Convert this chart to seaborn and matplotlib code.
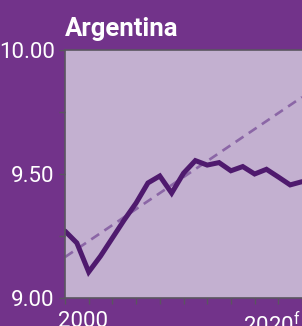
import matplotlib
matplotlib.use("Agg")
import matplotlib.pyplot as plt
import matplotlib.transforms as mtransforms
import seaborn as sns
import pandas as pd

# 数据
periods = [0, 1, 2, 3, 4, 5, 6, 7, 8, 9, 10, 11, 12, 13, 14, 15, 16, 17, 18, 19, 20]
values = [9.270, 9.222, 9.105, 9.169, 9.242, 9.315, 9.383, 9.464, 9.492, 9.423,
          9.503, 9.554, 9.536, 9.546, 9.513, 9.530, 9.500, 9.519, 9.488, 9.456, 9.469]
trend_periods = [0, 20]
trend_values = [9.165, 9.810]
xtick_pos = [2, 18]
xtick_labels = ["2000", "2020$^\\mathrm{f}$"]
ytick_pos = [9.0, 9.5, 10.0]
ytick_labels = ["9.00", "9.50", "10.00"]

sns.set_theme(style="ticks")
plt.rcParams['font.family'] = ['Roboto', 'DejaVu Sans']
plt.rcParams['mathtext.fontset'] = 'custom'
plt.rcParams['mathtext.rm'] = 'Roboto'

bg = '#72338a'
face = '#c3b0d0'
spine_c = '#5a5560'

fig = plt.figure(figsize=(3.02, 3.26), dpi=100, facecolor=bg)
ax = fig.add_axes([65 / 302, 28 / 326, 237 / 302, 248 / 326])
ax.set_facecolor(face)

df = pd.DataFrame({'period': periods, 'value': values})
tr = pd.DataFrame({'period': trend_periods, 'value': trend_values})

sns.lineplot(data=tr, x='period', y='value', ax=ax, color='#8b66a6',
             linewidth=1.9, linestyle=(0, (3.6, 2.4)))
sns.lineplot(data=df, x='period', y='value', ax=ax, color='#4f1a6e',
             linewidth=3.6, solid_joinstyle='miter')

ax.set_xlim(0, 20)
ax.set_ylim(9.0, 10.0)
ax.set_xlabel('')
ax.set_ylabel('')

ax.set_yticks(ytick_pos, ytick_labels)
ax.set_yticks([9.25, 9.75], minor=True)
ax.set_xticks(xtick_pos, xtick_labels)
ax.set_xticks(range(0, 21, 2), minor=True)

for which in ['major', 'minor']:
    ax.tick_params(axis='both', which=which, length=4, width=1, color=spine_c,
                   labelcolor='white', labelsize=16, pad=3.5)
ax.tick_params(axis='x', which='major', pad=5.5)

# x轴标签整体往左挪一点
offset = mtransforms.ScaledTranslation(-6 / 100, 0, fig.dpi_scale_trans)
for lab in ax.get_xticklabels():
    lab.set_transform(lab.get_transform() + offset)

for s in ['left', 'bottom', 'top']:
    ax.spines[s].set_color(spine_c)
    ax.spines[s].set_linewidth(1.2)
ax.spines['right'].set_visible(False)

fig.text(65 / 302, 1 - 36 / 326, 'Argentina', color='white', fontsize=18.5,
         fontweight='bold', ha='left', va='baseline')

fig.savefig('out.png', dpi=100, facecolor=bg)
